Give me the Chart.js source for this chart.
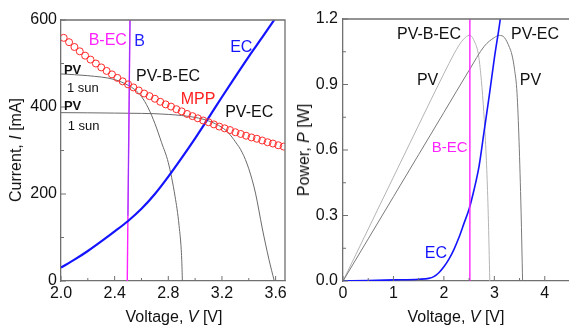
<!DOCTYPE html>
<html>
<head>
<meta charset="utf-8">
<script src="https://cdn.jsdelivr.net/npm/chart.js@4.4.1/dist/chart.umd.min.js"></script>
<style>
  body { margin: 0; width: 569px; height: 327px; overflow: hidden; background: #fff; position: relative; font-family: "Liberation Sans", Arial, sans-serif; }
  .box { position: absolute; top: 0; width: 290px; height: 327px; }
  .title { position: absolute; font-size: 16px; color: #111; white-space: nowrap; transform: translate(-50%, -50%); }
  .rot { transform: translate(-50%, -50%) rotate(-90deg); }
</style>
</head>
<body>
<div class="box" style="left:0"><canvas id="ivChart" width="290" height="327"></canvas></div>
<div class="box" style="left:290px"><canvas id="powerChart" width="290" height="327"></canvas></div>
<div class="title" style="left:174px; top:317px">Voltage, <i>V</i> [V]</div>
<div class="title rot" style="left:16px; top:150px">Current, <i>I</i> [mA]</div>
<div class="title" style="left:456px; top:317px">Voltage, <i>V</i> [V]</div>
<div class="title rot" style="left:304px; top:150px">Power, <i>P</i> [W]</div>
<script>
// left chart: current vs voltage
const ivXTicks = [2.0, 2.4, 2.8, 3.2, 3.6];
const ivYTicks = [0, 200, 400, 600];

const ecV = [2.0, 2.1, 2.2, 2.3, 2.4, 2.5, 2.6, 2.7, 2.8, 2.9, 3.0, 3.1, 3.2, 3.3, 3.4, 3.5, 3.6];
const ecI = [31, 49, 69, 91, 114, 138, 166, 200, 240, 283, 328, 375, 423, 470, 516, 560, 605];

const pvBecV = [2.0, 2.2, 2.4, 2.5, 2.55, 2.6, 2.65, 2.7, 2.75, 2.8, 2.85, 2.88, 2.9, 2.905];
const pvBecI = [476, 472, 463, 450, 440, 424, 398, 362, 318, 272, 195, 128, 50, 0];

const pvEcV = [2.0, 2.4, 2.8, 3.0, 3.1, 3.2, 3.25, 3.3, 3.35, 3.4, 3.45, 3.5, 3.55, 3.59];
const pvEcI = [387, 386, 383, 376, 368, 353, 340, 320, 296, 258, 202, 122, 50, 0];

const mppV = [2.02, 2.06, 2.10, 2.14, 2.18, 2.22, 2.26, 2.30, 2.34, 2.38, 2.42, 2.46, 2.50, 2.54,
  2.58, 2.62, 2.66, 2.70, 2.74, 2.78, 2.82, 2.86, 2.90, 2.94, 2.98, 3.02, 3.06, 3.10, 3.14, 3.18,
  3.22, 3.26, 3.30, 3.34, 3.38, 3.42, 3.46, 3.50, 3.54, 3.58, 3.62, 3.66];
const mppI = [559, 549, 538, 528, 518, 509, 500, 491, 483, 475, 467, 459, 452, 445,
  438, 431, 425, 419, 412, 406, 401, 395, 390, 384, 379, 374, 369, 365, 360, 355,
  351, 347, 342, 338, 334, 330, 327, 323, 319, 316, 312, 309];

const bEcV = [2.494, 2.514];
const bEcI = [0, 600];
const bV = [2.499, 2.515];
const bI = [150, 600];

// right chart: power vs voltage
const pXTicks = [0, 1, 2, 3, 4];
const pYTicks = [0, 0.3, 0.6, 0.9, 1.2];

const ecPV = [0, 0.5, 1.0, 1.5, 1.7, 1.8, 1.9, 2.0, 2.1, 2.2, 2.3, 2.4, 2.5, 2.6, 2.7, 2.8, 2.9, 3.0, 3.1, 3.2];
const ecP = [0, 0.002, 0.005, 0.008, 0.012, 0.02, 0.038, 0.065, 0.1, 0.145, 0.2, 0.265, 0.33, 0.42, 0.53, 0.69, 0.85, 1.02, 1.17, 1.34];

const pvBecPV = [0, 0.5, 1.0, 1.5, 2.0, 2.2, 2.3, 2.4, 2.5, 2.55, 2.6, 2.68, 2.73, 2.78, 2.82, 2.85, 2.88, 2.91];
const pvBecP = [0, 0.238, 0.476, 0.714, 0.95, 1.04, 1.08, 1.11, 1.125, 1.12, 1.1, 1.043, 0.95, 0.81, 0.66, 0.51, 0.3, 0];

const pvEcPV = [0, 0.5, 1.0, 1.5, 2.0, 2.5, 2.8, 3.0, 3.1, 3.2, 3.3, 3.35, 3.4, 3.45, 3.49, 3.53, 3.56];
const pvEcP = [0, 0.193, 0.386, 0.579, 0.772, 0.965, 1.075, 1.115, 1.125, 1.115, 1.07, 1.035, 0.97, 0.86, 0.64, 0.32, 0];

const bEcPV = [2.515, 2.515];
const bEcP = [0, 1.2];

function pts(xs, ys) {
  return xs.map((x, i) => ({ x: x, y: ys[i] }));
}

function curve(xs, ys, color, width) {
  return {
    data: pts(xs, ys),
    showLine: true,
    borderColor: color,
    borderWidth: width,
    pointRadius: 0,
    cubicInterpolationMode: "monotone",
    fill: false
  };
}

// inward ticks + top/right frame + text notes
const framePlugin = {
  id: "frame",
  afterDatasetsDraw(chart) {
    const ctx = chart.ctx;
    const a = chart.chartArea;
    const cfg = chart.options.plugins.frame;
    const xs = chart.scales.x;
    const ys = chart.scales.y;
    ctx.save();
    ctx.strokeStyle = "#707070";
    ctx.lineWidth = 1.3;
    ctx.beginPath();
    ctx.moveTo(a.left, a.top);
    ctx.lineTo(a.right, a.top);
    ctx.lineTo(a.right, a.bottom);
    ctx.stroke();
    ctx.lineWidth = 1;
    ctx.beginPath();
    for (let v = xs.min; v <= xs.max + 1e-9; v += cfg.xMinor) {
      const px = xs.getPixelForValue(v);
      const major = cfg.xTicks.some(t => Math.abs(t - v) < 1e-6);
      ctx.moveTo(px, a.bottom);
      ctx.lineTo(px, a.bottom - (major ? 5 : 3));
    }
    for (let v = ys.min; v <= ys.max + 1e-9; v += cfg.yMinor) {
      const py = ys.getPixelForValue(v);
      const major = cfg.yTicks.some(t => Math.abs(t - v) < 1e-6);
      ctx.moveTo(a.left, py);
      ctx.lineTo(a.left + (major ? 5 : 3), py);
    }
    ctx.stroke();
    ctx.textBaseline = "middle";
    ctx.textAlign = "left";
    cfg.notes.forEach(n => {
      ctx.font = n.font || "16px 'Liberation Sans', Arial, sans-serif";
      ctx.fillStyle = n.color;
      ctx.fillText(n.text, xs.getPixelForValue(n.x), ys.getPixelForValue(n.y));
    });
    ctx.restore();
  }
};

function axis(min, max, ticks, digits, size, pad) {
  return {
    type: "linear",
    min: min,
    max: max,
    afterBuildTicks: s => { s.ticks = ticks.map(v => ({ value: v })); },
    afterFit: s => { if (s.isHorizontal()) s.height = size; else s.width = size; },
    grid: { drawOnChartArea: false, drawTicks: false },
    border: { color: "#707070", width: 1.3 },
    ticks: {
      padding: pad,
      color: "#111",
      font: { family: "'Liberation Sans', Arial, sans-serif", size: 16 },
      callback: v => v.toFixed(digits)
    }
  };
}

function makeChart(id, datasets, scales, padding, frame) {
  return new Chart(document.getElementById(id), {
    type: "scatter",
    data: { datasets: datasets },
    options: {
      responsive: false,
      animation: false,
      devicePixelRatio: 1,
      layout: { padding: padding },
      plugins: { legend: { display: false }, tooltip: { enabled: false }, frame: frame },
      scales: scales
    },
    plugins: [framePlugin]
  });
}

const small = "13px 'Liberation Sans', Arial, sans-serif";
const smallBold = "bold 13px 'Liberation Sans', Arial, sans-serif";

makeChart("ivChart", [
  {
    data: pts(mppV, mppI),
    showLine: false,
    pointRadius: 3.5,
    pointBorderWidth: 1,
    pointBorderColor: "#ff2a2a",
    pointBackgroundColor: "rgba(0,0,0,0)"
  },
  curve(ecV, ecI, "#1414ff", 2.2),
  curve(bV, bI, "rgba(110,60,255,0.8)", 1),
  curve(bEcV, bEcI, "#ff22ff", 1.4),
  curve(pvBecV, pvBecI, "#6a6a6a", 1),
  curve(pvEcV, pvEcI, "#6a6a6a", 1)
], {
  x: axis(2.0, 3.67, ivXTicks, 1, 46, 3),
  y: axis(0, 600, ivYTicks, 0, 61, 4)
}, { left: 0, right: 2, top: 20, bottom: 0 }, {
  xTicks: ivXTicks, yTicks: ivYTicks, xMinor: 0.2, yMinor: 100,
  notes: [
    { text: "B-EC", x: 2.206, y: 552, color: "#ff22ff" },
    { text: "B", x: 2.546, y: 550, color: "#2222ff" },
    { text: "EC", x: 3.261, y: 536, color: "#1414ff" },
    { text: "PV", x: 2.022, y: 485, color: "#111", font: smallBold },
    { text: "1 sun", x: 2.044, y: 443, color: "#111", font: small },
    { text: "PV", x: 2.022, y: 402, color: "#111", font: smallBold },
    { text: "1 sun", x: 2.05, y: 356, color: "#111", font: small },
    { text: "PV-B-EC", x: 2.56, y: 471, color: "#111" },
    { text: "MPP", x: 2.892, y: 418, color: "#ff2020" },
    { text: "PV-EC", x: 3.224, y: 386, color: "#111" }
  ]
});

makeChart("powerChart", [
  curve(bEcPV, bEcP, "#ff22ff", 1.4),
  curve(ecPV, ecP, "#1414ff", 1.6),
  curve(pvEcPV, pvEcP, "#7a7a7a", 1),
  curve(pvBecPV, pvBecP, "#b4b4b4", 1)
], {
  x: axis(0, 4.5, pXTicks, 0, 46, 3),
  y: axis(0, 1.2, pYTicks, 1, 53, 5)
}, { left: 0, right: 10, top: 19, bottom: 0 }, {
  xTicks: pXTicks, yTicks: pYTicks, xMinor: 0.5, yMinor: 0.15,
  notes: [
    { text: "PV-B-EC", x: 1.07, y: 1.127, color: "#111" },
    { text: "PV-EC", x: 3.33, y: 1.127, color: "#111" },
    { text: "PV", x: 1.465, y: 0.916, color: "#111" },
    { text: "PV", x: 3.505, y: 0.916, color: "#111" },
    { text: "B-EC", x: 1.76, y: 0.608, color: "#ff22ff", font: "15px 'Liberation Sans', Arial, sans-serif" },
    { text: "EC", x: 1.62, y: 0.127, color: "#1414ff" }
  ]
});
</script>
</body>
</html>
